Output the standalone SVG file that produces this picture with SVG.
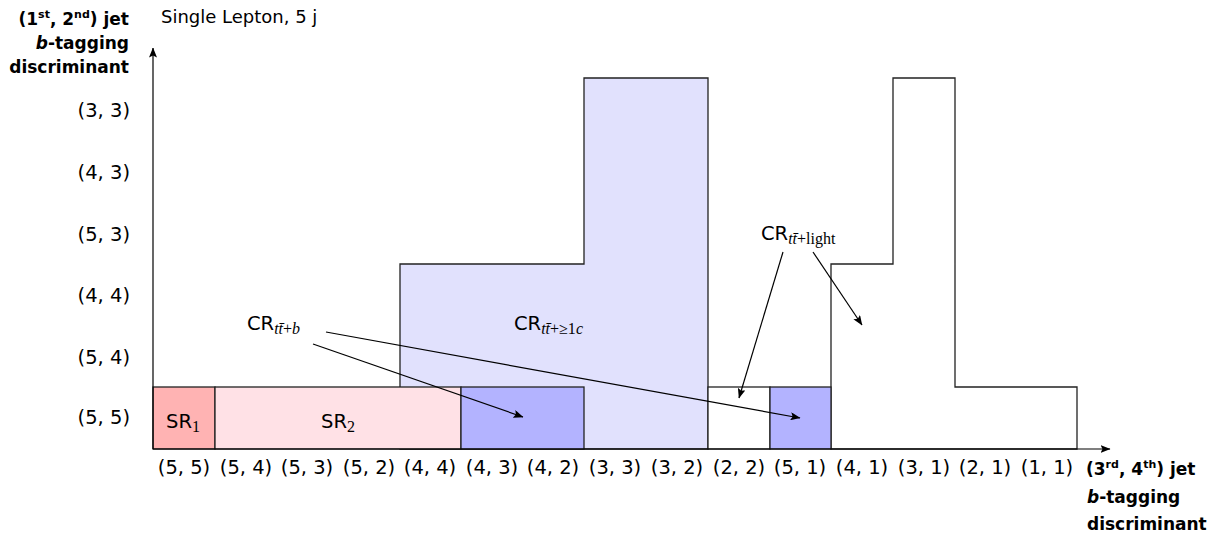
<svg xmlns="http://www.w3.org/2000/svg" width="1223" height="540" viewBox="0 0 1223 540">
<defs>
<marker id="ah" viewBox="0 0 10 8" refX="9.5" refY="4" markerWidth="10" markerHeight="8" markerUnits="userSpaceOnUse" orient="auto">
<path d="M0,0 L10,4 L0,8 L2,4 Z" fill="#000"/>
</marker>
<style>
.s{font-family:"DejaVu Sans","Liberation Sans",sans-serif;fill:#000}
.t{font-size:19.5px}
.b{font-weight:bold;font-size:17px}
.m{font-family:"Liberation Serif","DejaVu Serif",serif;font-size:16px}
.i{font-style:italic}
.box{stroke:#222;stroke-width:1.3}
.con{stroke:#000;stroke-width:1.2;fill:none;marker-end:url(#ah)}
</style>
</defs>
<rect width="1223" height="540" fill="#fff"/>

<g id="cr-c-region">
<polygon class="box" points="400,449 400,264 584,264 584,78 708,78 708,449" fill="#e1e1fd"/>
</g>
<g id="cr-light-region">
<polygon class="box" points="831,449 831,264 893,264 893,78 955,78 955,387 1077,387 1077,449" fill="#fff"/>
</g>
<g id="sr1"><rect class="box" x="153" y="387" width="62" height="62" fill="#ffb3b3"/>
<text class="s t" x="166" y="428">SR<tspan class="m" dy="4">1</tspan></text></g>
<g id="sr2"><rect class="box" x="215" y="387" width="246" height="62" fill="#ffe1e6"/>
<text class="s t" x="321" y="428">SR<tspan class="m" dy="4">2</tspan></text></g>
<g id="cr-b1"><rect class="box" x="461" y="387" width="123" height="62" fill="#b3b3ff"/></g>
<g id="cr-l1"><rect class="box" x="708" y="387" width="62" height="62" fill="#fff"/></g>
<g id="cr-b2"><rect class="box" x="770" y="387" width="61" height="62" fill="#b3b3ff"/></g>

<g id="label-crb"><text class="s t" x="247" y="330">CR<tspan class="m i" dy="4">tt&#x0304;</tspan><tspan class="m">+</tspan><tspan class="m i">b</tspan></text></g>
<g id="label-crc"><text class="s t" x="514" y="330">CR<tspan class="m i" dy="4">tt&#x0304;</tspan><tspan class="m">+≥1</tspan><tspan class="m i">c</tspan></text></g>
<g id="label-crl"><text class="s t" x="761" y="240">CR<tspan class="m i" dy="4">tt&#x0304;</tspan><tspan class="m">+light</tspan></text></g>

<g id="axes" stroke="#000" stroke-width="1.2" fill="none">
<line x1="153" y1="449" x2="1110" y2="449" marker-end="url(#ah)"/>
<line x1="153" y1="449" x2="153" y2="48" marker-end="url(#ah)"/>
</g>

<g id="connectors">
<line class="con" x1="313" y1="344" x2="523" y2="417"/>
<line class="con" x1="326" y1="332" x2="800" y2="418"/>
<line class="con" x1="783" y1="252" x2="739" y2="398"/>
<line class="con" x1="813" y1="252" x2="862" y2="325"/>
</g>

<g id="xlabels" class="s t" text-anchor="middle">
<text x="184" y="474">(5, 5)</text>
<text x="246" y="474">(5, 4)</text>
<text x="307" y="474">(5, 3)</text>
<text x="369" y="474">(5, 2)</text>
<text x="430" y="474">(4, 4)</text>
<text x="492" y="474">(4, 3)</text>
<text x="553" y="474">(4, 2)</text>
<text x="615" y="474">(3, 3)</text>
<text x="677" y="474">(3, 2)</text>
<text x="739" y="474">(2, 2)</text>
<text x="800" y="474">(5, 1)</text>
<text x="862" y="474">(4, 1)</text>
<text x="924" y="474">(3, 1)</text>
<text x="985" y="474">(2, 1)</text>
<text x="1047" y="474">(1, 1)</text>
</g>
<g id="ylabels" class="s t" text-anchor="end">
<text x="130" y="117">(3, 3)</text>
<text x="130" y="179">(4, 3)</text>
<text x="130" y="241">(5, 3)</text>
<text x="130" y="302">(4, 4)</text>
<text x="130" y="364">(5, 4)</text>
<text x="130" y="424">(5, 5)</text>
</g>

<g id="title"><text class="s" x="161" y="23" font-size="18">Single Lepton, 5 j</text></g>

<g id="ylabel" class="s b" text-anchor="end">
<text x="129" y="25">(1<tspan font-size="11" dy="-7">st</tspan><tspan dy="7">, 2</tspan><tspan font-size="11" dy="-7">nd</tspan><tspan dy="7">) jet</tspan></text>
<text x="129" y="49"><tspan font-style="italic">b</tspan>-tagging</text>
<text x="129" y="73">discriminant</text>
</g>
<g id="xlabel" class="s b">
<text x="1086" y="475">(3<tspan font-size="11" dy="-7">rd</tspan><tspan dy="7">, 4</tspan><tspan font-size="11" dy="-7">th</tspan><tspan dy="7">) jet</tspan></text>
<text x="1087" y="503"><tspan font-style="italic">b</tspan>-tagging</text>
<text x="1087" y="530">discriminant</text>
</g>
</svg>
